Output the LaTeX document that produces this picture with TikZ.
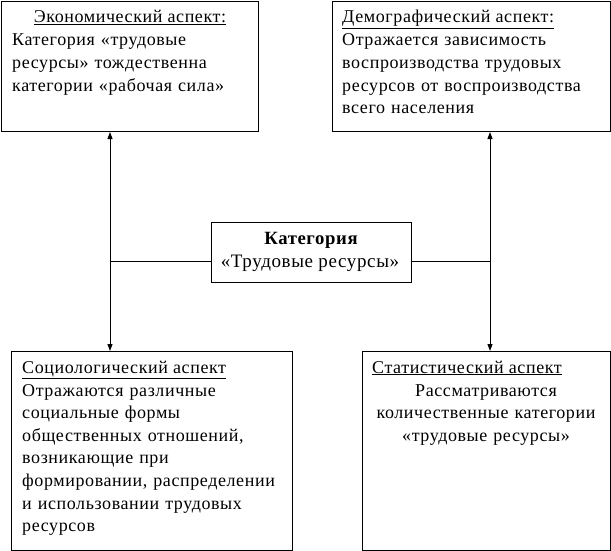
\documentclass[tikz,border=0pt]{standalone}
\usepackage{fontspec}
\setmainfont{Liberation Serif}[LetterSpace=3.3]
\usetikzlibrary{arrows.meta}
\begin{document}
\begin{tikzpicture}[x=1pt,y=-1pt,
  box/.style={draw,line width=1pt,inner sep=0pt,anchor=north west},
  txt/.style={inner sep=0pt,font=\fontsize{18}{22.6}\selectfont},
  link/.style={line width=1pt},
  arr/.style={line width=1pt,-{Triangle[length=7pt,width=5pt]}}]
\useasboundingbox (0,0) rectangle (611,551);
\fill[white] (0,0) rectangle (611,551);
% boxes
\node[box,minimum width=257pt,minimum height=130pt] (tl) at (1,1) {};
\node[box,minimum width=278pt,minimum height=130pt] (tr) at (332,1) {};
\node[box,minimum width=200pt,minimum height=60pt] (c) at (211,222) {};
\node[box,minimum width=281pt,minimum height=199pt] (bl) at (11,351) {};
\node[box,minimum width=248pt,minimum height=199pt] (br) at (362,351) {};
% texts
\node[txt,anchor=base] (tlh) at (130,23) {\underline{Экономический аспект:}};
\node[txt,anchor=base west,text width=245pt,align=left] (tlb) at (12,46)
  {Категория «трудовые\\ресурсы» тождественна\\категории «рабочая сила»};
\node[txt,anchor=base west] (trh) at (342,23) {\underline{Демографический аспект:}};
\node[txt,anchor=base west,text width=265pt,align=left] (trb) at (342,46)
  {Отражается зависимость\\воспроизводства трудовых\\ресурсов от воспроизводства\\всего населения};
\node[txt,anchor=base,font=\fontsize{18.7}{22.6}\selectfont\bfseries] (ct1) at (311,244)
  {Категория};
\node[txt,anchor=base,font=\fontsize{19}{22.6}\selectfont] (ct2) at (310,267)
  {«Трудовые ресурсы»};
\node[txt,anchor=base west] (blh) at (22,373) {\underline{Социологический аспект}};
\node[txt,anchor=base west,text width=268pt,align=left] (blb) at (22,396)
  {Отражаются различные\\социальные формы\\общественных отношений,\\возникающие при\\формировании, распределении\\и использовании трудовых\\ресурсов};
\node[txt,anchor=base west] (brh) at (372,373) {\underline{Статистический аспект}};
\node[txt,anchor=base,text width=240pt,align=center] (brb) at (486,396)
  {Рассматриваются\\количественные категории\\«трудовые ресурсы»};
% connectors
\coordinate (jl) at (110,261);
\coordinate (jr) at (490,261);
\draw[link] (c.west |- jl) -- (jl);
\draw[link] (c.east |- jr) -- (jr);
\draw[arr] (jl) -- (tl.south -| jl);
\draw[arr] (jl) -- (bl.north -| jl);
\draw[arr] (jr) -- (tr.south -| jr);
\draw[arr] (jr) -- (br.north -| jr);
\end{tikzpicture}
\end{document}
